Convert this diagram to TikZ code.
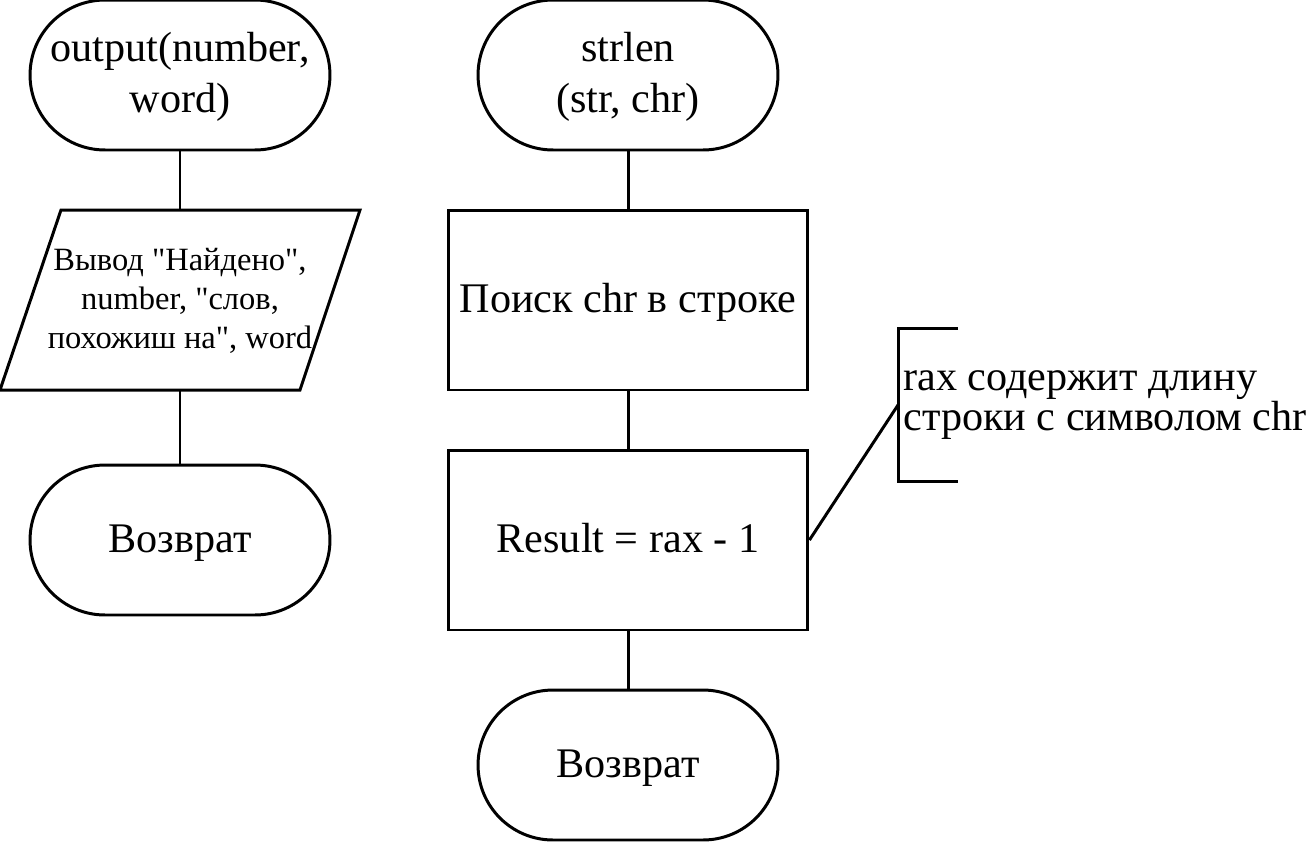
\documentclass[tikz,border=0pt]{standalone}
\usepackage{fontspec}
\setmainfont{Liberation Serif}[Ligatures=TeXOff]
\usetikzlibrary{positioning}
\newcommand\flowfs{\fontsize{24}{28.8}\selectfont}
\newcommand\iofs{\fontsize{18.5}{22}\selectfont}
\newcommand\notefs{\fontsize{24}{21.6}\selectfont}

\begin{document}
\begin{tikzpicture}[x=0.02cm,y=-0.02cm,line width=1.7pt,
  term/.style={draw,rounded corners=1.5cm,minimum width=6cm,minimum height=3cm,align=center,font=\flowfs},
  proc/.style={draw,minimum width=7.2cm,minimum height=3.6cm,align=center,font=\flowfs},
  iotext/.style={minimum width=6cm,minimum height=3.6cm,align=center,font=\iofs,text height=58.8pt,text depth=4.1pt},
  note/.style={minimum height=3cm,inner xsep=0.08cm,align=left,font=\notefs},
  oneline/.style={text height=19.2pt,text depth=5.3pt},
  twoline/.style={text height=48pt,text depth=5.3pt}]
\useasboundingbox (0,0) rectangle (1308,843);

% output
\node[term,twoline] (outbeg) at (180,75) {output(number,\\word)};
\node[iotext] (outio) at (180,300) {Вывод "Найдено",\\number, "слов,\\похожиш на", word};
\draw[line join=miter] (outio.center) ++(-119,-90) -- ++(299,0) -- ++(-60,180) -- ++(-300,0) -- cycle;
\node[term,oneline] (outend) at (180,540) {Возврат};
\draw (outbeg.south) -- (outio.north);
\draw (outio.south) -- (outend.north);

% strlen
\node[term,twoline] (lenbeg) at (628,75) {strlen\\(str, chr)};
\node[proc,oneline] (find) at (628,300) {Поиск chr в строке};
\node[proc,oneline] (res) at (628,540) {Result = rax - 1};
\node[term,oneline] (lenend) at (628,765) {Возврат};
\draw (lenbeg.south) -- (find.north);
\draw (find.south) -- (res.north);
\draw (res.south) -- (lenend.north);

% comment
\node[note,anchor=west] (ann) at (898,405) {rax содержит длину\\строки с символом chr};
\draw ([xshift=1.2cm]ann.north west) -- (ann.north west) -- (ann.south west) -- ([xshift=1.2cm]ann.south west);
\draw (res.east) -- (ann.west);

\end{tikzpicture}
\end{document}
